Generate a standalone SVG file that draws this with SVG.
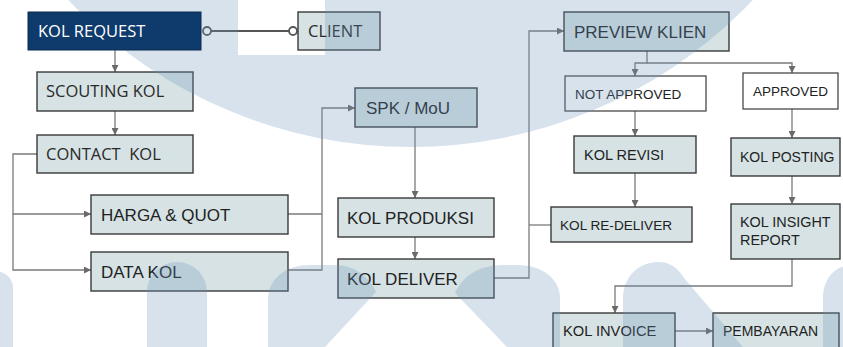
<svg xmlns="http://www.w3.org/2000/svg" width="843" height="347" viewBox="0 0 843 347">
<defs>
<marker id="arr" viewBox="0 0 8 8" refX="8" refY="4" markerWidth="7" markerHeight="7" markerUnits="userSpaceOnUse" orient="auto">
<path d="M0 0 L8 4 L0 8 Z" fill="#6a6a6a"/>
</marker>
<style>
.box{fill:#d6e2e4;stroke:#3a3a3a;stroke-width:1.4}
.wbox{fill:#ffffff;stroke:#3a3a3a;stroke-width:1.2}
.t1{font-family:"Open Sans",sans-serif;font-size:16.5px;fill:#2a2a2a}
.t2{font-family:"Liberation Sans",Arial,sans-serif;fill:#222222}
.c{fill:none;stroke:#7a7a7a;stroke-width:1.3}
.ca{fill:none;stroke:#7a7a7a;stroke-width:1.3;marker-end:url(#arr)}
.wm{fill:#6a92be;fill-opacity:0.27}
</style>
</defs>
<rect width="843" height="347" fill="#ffffff"/>

<g id="connectors">
<path class="ca" d="M115 50 V72"/>
<path class="ca" d="M115 111 V135"/>
<path class="ca" d="M37 154 H13 V214 H91"/>
<path class="ca" d="M13 214 V270 H91"/>
<path class="c" d="M288 214 H322"/>
<path class="ca" d="M288 270 H322 V108 H355"/>
<path class="ca" d="M415 127 V198"/>
<path class="ca" d="M415 237 V259"/>
<path class="ca" d="M494 278 H529 V31 H564"/>
<path class="c" d="M551 225 H529"/>
<path class="ca" d="M647 51 V63 H635 V76"/>
<path class="ca" d="M647 63 H792 V73"/>
<path class="ca" d="M635 111 V136"/>
<path class="ca" d="M635 173 V207"/>
<path class="ca" d="M792 109 V138"/>
<path class="ca" d="M792 176 V204"/>
<path class="ca" d="M792 259 V286 H615 V313"/>
<path class="ca" d="M675 331 H713"/>
<g id="kolrequest-client">
<path d="M211 31 H289" fill="none" stroke="#555555" stroke-width="2"/>
<circle cx="207" cy="31" r="4" fill="#ffffff" stroke="#555555" stroke-width="1.8"/>
<circle cx="293" cy="31" r="4" fill="#ffffff" stroke="#555555" stroke-width="1.8"/>
</g>
</g>

<g id="client"><rect class="box" x="298" y="12" width="82" height="38"/><text class="t1" x="308" y="37">CLIENT</text></g>
<g id="scouting-kol"><rect class="box" x="37" y="72" width="156" height="39"/><text class="t1" x="46" y="97">SCOUTING KOL</text></g>
<g id="contact-kol"><rect class="box" x="37" y="135" width="156" height="38"/><text class="t1" x="46" y="160" xml:space="preserve">CONTACT  KOL</text></g>
<g id="harga-quot"><rect class="box" x="91" y="195" width="197" height="39"/><text class="t2" x="101" y="221" font-size="17">HARGA &amp; QUOT</text></g>
<g id="data-kol"><rect class="box" x="91" y="252" width="197" height="39"/><text class="t2" x="101" y="278" font-size="17">DATA KOL</text></g>
<g id="spk-mou"><rect class="box" x="355" y="88" width="122" height="39"/><text class="t2" x="366" y="114" font-size="17">SPK / MoU</text></g>
<g id="kol-produksi"><rect class="box" x="338" y="198" width="156" height="39"/><text class="t2" x="347" y="224" font-size="17">KOL PRODUKSI</text></g>
<g id="kol-deliver"><rect class="box" x="338" y="259" width="156" height="39"/><text class="t2" x="347" y="285" font-size="17">KOL DELIVER</text></g>
<g id="preview-klien"><rect class="box" x="564" y="12" width="165" height="39"/><text class="t2" x="574" y="38" font-size="17">PREVIEW KLIEN</text></g>
<g id="not-approved"><rect class="wbox" x="565" y="76" width="141" height="35"/><text class="t2" x="575" y="98.5" font-size="13.5">NOT APPROVED</text></g>
<g id="approved"><rect class="wbox" x="743" y="73" width="95" height="36"/><text class="t2" x="753" y="96" font-size="13.5">APPROVED</text></g>
<g id="kol-revisi"><rect class="box" x="574" y="136" width="122" height="37"/><text class="t2" x="584" y="159.5" font-size="14.5">KOL REVISI</text></g>
<g id="kol-posting"><rect class="box" x="731" y="138" width="109" height="38"/><text class="t2" x="740" y="162" font-size="14">KOL POSTING</text></g>
<g id="kol-re-deliver"><rect class="box" x="551" y="207" width="141" height="35"/><text class="t2" x="560" y="229.5" font-size="13.6">KOL RE-DELIVER</text></g>
<g id="kol-insight-report"><rect class="box" x="731" y="204" width="109" height="55"/><text class="t2" x="740" y="227" font-size="14.4">KOL INSIGHT</text><text class="t2" x="740" y="245" font-size="14.4">REPORT</text></g>
<g id="kol-invoice"><rect class="box" x="553" y="313" width="122" height="50"/><text class="t2" x="563" y="336" font-size="14.7">KOL INVOICE</text></g>
<g id="pembayaran"><rect class="box" x="713" y="313" width="126" height="50"/><text class="t2" x="723" y="336" font-size="14">PEMBAYARAN</text></g>

<g id="watermark">
<path class="wm" fill-rule="evenodd" d="M-61.4 -325 A472 472 0 0 0 882.6 -325 Z M238 -1 H325 V55 H238 Z"/>
<path class="wm" d="M-20 347 V288 A16.5 16.5 0 0 1 13 288 V347 Z"/>
<path class="wm" d="M147 347 V292 A30 30 0 0 1 207 292 V347 Z"/>
<path class="wm" d="M268 347 V300 C268 278 286 265 310 265 H335 C355 265 370 278 376 292 L325 347 Z"/>
<path class="wm" d="M507 347 L455 293 C462 277 478 265 503 265 H518 C543 265 560 280 560 298 V347 Z"/>
<path class="wm" d="M623 347 V298 C623 276 640 262 658 262 C670 262 678 268 684 278 L743 347 Z"/>
<path class="wm" d="M823 347 V297 C823 278 836 265 852 265 V347 Z"/>
</g>

<g id="kol-request"><rect x="28" y="12" width="173" height="38" fill="#0e3a6c" stroke="#0a2a50" stroke-width="1"/><text class="t1" x="38" y="37" fill="#ffffff" style="fill:#ffffff">KOL REQUEST</text></g>
</svg>
